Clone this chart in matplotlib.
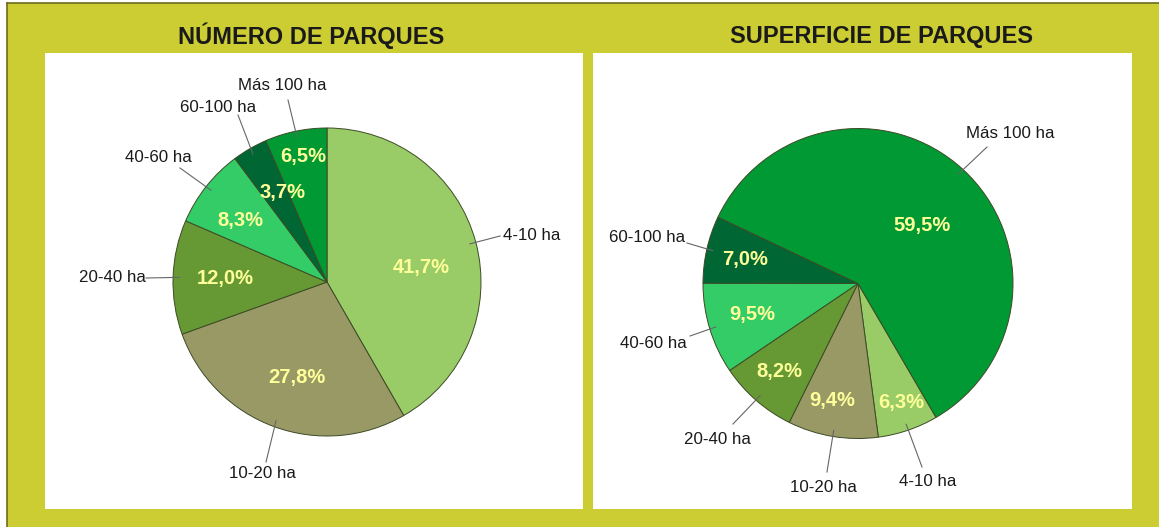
import numpy as np
import matplotlib
matplotlib.use('Agg')
import matplotlib.pyplot as plt
from matplotlib.patches import Rectangle

plt.rcParams['font.family'] = ['Liberation Sans', 'DejaVu Sans']

# data
categorias = ['4-10 ha', '10-20 ha', '20-40 ha', '40-60 ha', '60-100 ha', 'Más 100 ha']
numero = [41.7, 27.8, 12.0, 8.3, 3.7, 6.5]
superficie = [6.3, 9.4, 8.2, 9.5, 7.0, 59.5]
titulos = ['NÚMERO DE PARQUES', 'SUPERFICIE DE PARQUES']

colores = ['#99CC66', '#999966', '#669933', '#33CC66', '#006633', '#009933']

W, H = 1159, 527


def Y(y):
    # image rows -> data y
    return H - y


fig = plt.figure(figsize=(W / 100, H / 100), dpi=100)
fig.patch.set_facecolor('white')
ax = fig.add_axes((0, 0, 1, 1))

# background frame
ax.add_patch(Rectangle((7, 0), W - 7, H - 3, facecolor='#CCCC33', edgecolor='none', zorder=0))
ax.plot([7, 7], [0, Y(3)], color='#6B6B1E', lw=1.2, zorder=1)
ax.plot([7, W], [Y(3), Y(3)], color='#6B6B1E', lw=1.2, zorder=1)

# white panels
for x0, x1 in [(45, 583), (593, 1132)]:
    ax.add_patch(Rectangle((x0, Y(509)), x1 - x0, 509 - 53, facecolor='white',
                           edgecolor='none', zorder=1))

for tx, t in zip([311, 882], titulos):
    ax.text(tx, Y(36), t, ha='center', va='center', fontsize=17, fontweight='bold',
            color='#1a1a1a', zorder=3)

# layout per chart: center, radius, start angle, pct label (dist, angle offset),
# category label (x, y, ha, va, line end)
layouts = [
    dict(center=(327, 282), r=154, start=90,
         pct=[(0.62, -6.5), (0.65, 2.7), (0.66, -0.4), (0.69, 2.8), (0.65, -3.5), (0.83, -0.8)],
         lab=[(503, 236, 'left', 'center', (500, 236)),
              (262, 474, 'center', 'center', (266, 462)),
              (146, 278, 'right', 'center', (146, 278)),
              (158, 157, 'center', 'center', (180, 168)),
              (218, 107, 'center', 'center', (238, 115)),
              (282, 85, 'center', 'center', (288, 100))]),
    dict(center=(858, 283.5), r=155, start=None,
         pct=[(0.82, 1.1), (0.77, -3.0), (0.76, -0.6), (0.71, -0.7), (0.745, 0.9), (0.56, -5.3)],
         lab=[(928, 482, 'center', 'center', (922, 467)),
              (823, 488, 'center', 'center', (827, 472)),
              (717, 439, 'center', 'center', (733, 424)),
              (653, 344, 'center', 'center', (690, 336)),
              (647, 238, 'center', 'center', (687, 243)),
              (1010, 133, 'center', 'center', (987, 147))]),
]

for vals, lay in zip([numero, superficie], layouts):
    cx, cy = lay['center'][0], Y(lay['center'][1])
    r = lay['r']
    start = lay['start']
    if start is None:
        # 40-60 / 60-100 boundary lies on the horizontal to the left
        start = 180 + 3.6 * sum(vals[:4])
    wedges, _ = ax.pie(vals, colors=colores, startangle=start, counterclock=False,
                       center=(cx, cy), radius=r,
                       wedgeprops=dict(edgecolor='#3d4a26', linewidth=0.7))
    for w in wedges:
        w.set_zorder(2)
    for w, v, (d, off), (lx, ly, ha, va, lend), cat in zip(
            wedges, vals, lay['pct'], lay['lab'], categorias):
        mid = np.deg2rad((w.theta1 + w.theta2) / 2)
        a = mid + np.deg2rad(off)
        ax.text(cx + d * r * np.cos(a), cy + d * r * np.sin(a),
                f'{v:.1f}%'.replace('.', ','), ha='center', va='center',
                fontsize=14.5, fontweight='bold', color='#FFFF99', zorder=4)
        # leader line
        sx, sy = cx + 0.96 * r * np.cos(mid), cy + 0.96 * r * np.sin(mid)
        ax.plot([sx, lend[0]], [sy, Y(lend[1])], color='#666666', lw=0.8, zorder=3)
        ax.text(lx, Y(ly), cat, ha=ha, va=va, fontsize=12.2, color='#1a1a1a', zorder=4)

ax.set_xlim(0, W)
ax.set_ylim(0, H)
ax.set_aspect('auto')
ax.axis('off')

fig.savefig('out.png', dpi=100)
